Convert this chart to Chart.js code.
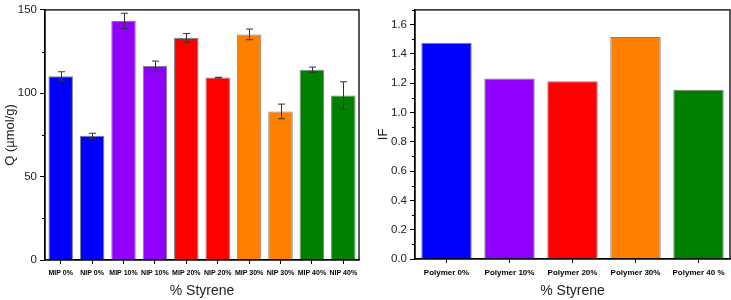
<!DOCTYPE html>
<html>
<head>
<meta charset="utf-8">
<script src="https://cdn.jsdelivr.net/npm/chart.js@4/dist/chart.umd.min.js"></script>
<style>
  body { margin: 0; background: #fff; }
  #wrap { width: 731px; height: 300px; position: relative; }
  canvas { position: absolute; top: 0; }
</style>
</head>
<body>
<div id="wrap">
  <canvas id="chartQ" width="366" height="300" style="left:0"></canvas>
  <canvas id="chartIF" width="365" height="300" style="left:366px"></canvas>
</div>
<script>
// left panel: adsorption capacity
labelsQ = ['MIP 0%', 'NIP 0%', 'MIP 10%', 'NIP 10%', 'MIP 20%', 'NIP 20%', 'MIP 30%', 'NIP 30%', 'MIP 40%', 'NIP 40%'];
qValues = [110.2, 74.5, 143.4, 116.3, 133.1, 109.4, 135.3, 89.1, 114.1, 98.6];
qErrors = [2.7, 1.5, 4.6, 3.0, 2.7, 0.2, 3.2, 4.4, 1.6, 8.3];
colorsQ = ['#0000ff', '#0000ff', '#8f00ff', '#8f00ff', '#ff0000', '#ff0000', '#ff8000', '#ff8000', '#008000', '#008000'];

// right panel: imprinting factor
labelsIF = ['Polymer 0%', 'Polymer 10%', 'Polymer 20%', 'Polymer 30%', 'Polymer 40 %'];
ifValues = [1.475, 1.231, 1.213, 1.515, 1.155];
colorsIF = ['#0000ff', '#8f00ff', '#ff0000', '#ff8000', '#008000'];

var FONT = "'Liberation Sans', Arial, sans-serif";

// frame, minor ticks and error bars
var extras = {
  id: 'extras',
  afterDatasetsDraw: function(chart, args, opts) {
    var ctx = chart.ctx;
    var a = chart.chartArea;
    var y = chart.scales.y;
    ctx.save();
    // minor ticks
    ctx.strokeStyle = '#000';
    ctx.lineWidth = 1;
    for (var v = opts.minorStep; v < y.max; v += opts.minorStep * 2) {
      var py = Math.round(y.getPixelForValue(v)) + 0.5;
      ctx.beginPath();
      ctx.moveTo(a.left - 3, py);
      ctx.lineTo(a.left, py);
      ctx.stroke();
    }
    // error bars
    if (opts.errors) {
      var meta = chart.getDatasetMeta(0);
      var vals = chart.data.datasets[0].data;
      ctx.strokeStyle = '#333';
      ctx.lineWidth = 1;
      meta.data.forEach(function(bar, i) {
        var e = opts.errors[i];
        var top = y.getPixelForValue(vals[i] + e);
        var bot = y.getPixelForValue(vals[i] - e);
        var x = Math.round(bar.x) + 0.5;
        ctx.beginPath();
        ctx.moveTo(x, top); ctx.lineTo(x, bot);
        ctx.moveTo(x - 3.5, top); ctx.lineTo(x + 3.5, top);
        ctx.moveTo(x - 3.5, bot); ctx.lineTo(x + 3.5, bot);
        ctx.stroke();
      });
    }
    // frame
    ctx.strokeStyle = '#000';
    ctx.lineWidth = 1.3;
    ctx.strokeRect(a.left, a.top, a.right - a.left, a.bottom - a.top);
    ctx.restore();
  }
};

function makeChart(id, labels, values, colors, cfg) {
  return new Chart(document.getElementById(id), {
    type: 'bar',
    data: {
      labels: labels,
      datasets: [{
        data: values,
        backgroundColor: colors,
        borderColor: '#808080',
        borderWidth: 1,
        barPercentage: cfg.barPct,
        categoryPercentage: 1
      }]
    },
    options: {
      responsive: false,
      animation: false,
      layout: { padding: { top: cfg.top, right: cfg.right, left: 0, bottom: 0 } },
      plugins: {
        legend: { display: false },
        tooltip: { enabled: false },
        extras: { minorStep: cfg.minor, errors: cfg.errors }
      },
      scales: {
        x: {
          grid: { drawOnChartArea: false, offset: false, tickLength: 4, color: '#000' },
          border: { color: '#000', width: 1.3 },
          ticks: { color: '#000', font: { family: FONT, size: cfg.xFont, weight: 'bold' }, maxRotation: 0, autoSkip: false, padding: 5 },
          title: { display: true, text: '% Styrene', color: '#222', font: { family: FONT, size: 14 }, padding: { top: 0, bottom: 0 } },
          afterFit: function(s) { s.height = cfg.xHeight; }
        },
        y: {
          min: 0,
          max: cfg.max,
          grid: { drawOnChartArea: false, tickLength: 5, color: '#000' },
          border: { color: '#000', width: 1.3 },
          ticks: {
            stepSize: cfg.step,
            color: '#222',
            padding: 3,
            font: { family: FONT, size: 11.5 },
            callback: cfg.fmt
          },
          afterBuildTicks: function(s) {
            s.ticks = s.ticks.filter(function(t) { return Math.abs(t.value / cfg.step - Math.round(t.value / cfg.step)) < 1e-6; });
          },
          title: { display: true, text: cfg.yTitle, color: '#222', font: { family: FONT, size: 13 }, padding: { top: cfg.yTitlePad, bottom: 2 } },
          afterFit: function(s) { s.width = cfg.yWidth; }
        }
      }
    },
    plugins: [extras]
  });
}

makeChart('chartQ', labelsQ, qValues, colorsQ, {
  barPct: 0.78, top: 8, right: 7, max: 150, step: 50, minor: 25,
  errors: qErrors, xFont: 7, xHeight: 40, yWidth: 45, yTitle: 'Q (µmol/g)', yTitlePad: 3,
  fmt: function(v) { return v; }
});

makeChart('chartIF', labelsIF, ifValues, colorsIF, {
  barPct: 0.8, top: 7, right: 1, max: 1.7, step: 0.2, minor: 0.1,
  errors: null, xFont: 8, xHeight: 41, yWidth: 49, yTitle: 'IF', yTitlePad: 10,
  fmt: function(v) { return v.toFixed(1); }
});
</script>
</body>
</html>
